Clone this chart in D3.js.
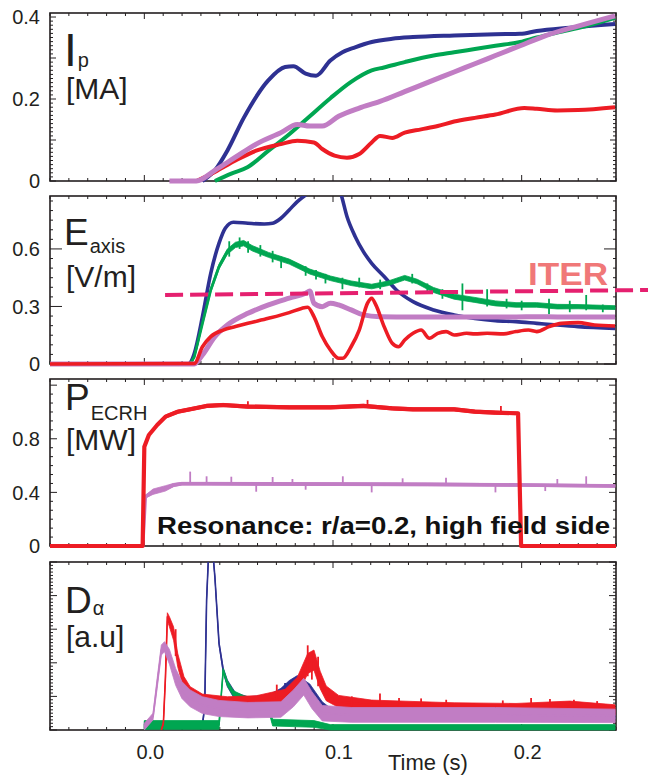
<!DOCTYPE html>
<html>
<head>
<meta charset="utf-8">
<script src="https://cdn.jsdelivr.net/npm/d3@7"></script>
<style>
body{margin:0;background:#fff;}
text{font-family:"Liberation Sans",Arial,sans-serif;fill:#231f20;}
</style>
</head>
<body>
<div id="chart"></div>
<script>
var width=648, height=778;
var left=50, right=616;

//couleurs des differents tirs
var colBlue="#2e3192", colGreen="#00a651", colRed="#ed1c24", colPurple="#c17dc4";

var timeLabels=[0.0,0.1,0.2];

//courant plasma Ip [MA]  [t, valeur]
var ipBlue=[[0.0308,0],[0.0374,0.026],[0.044,0.074],[0.0527,0.154],[0.0658,0.246],[0.0746,0.278],[0.079,0.28],[0.0855,0.262],[0.091,0.257],[0.0986,0.294],[0.105,0.314],[0.1117,0.326],[0.1205,0.339],[0.1314,0.347],[0.1424,0.351],[0.1642,0.355],[0.1861,0.358],[0.1992,0.359],[0.208,0.366],[0.2255,0.374],[0.2495,0.383]];
var ipGreen=[[0.0374,0],[0.0461,0.018],[0.0549,0.034],[0.0658,0.074],[0.0768,0.114],[0.0877,0.158],[0.0986,0.202],[0.1096,0.242],[0.1205,0.27],[0.127,0.277],[0.138,0.29],[0.1533,0.306],[0.1642,0.314],[0.1752,0.322],[0.1861,0.33],[0.1992,0.339],[0.208,0.35],[0.2189,0.362],[0.2342,0.378],[0.2495,0.398]];
var ipPurple=[[0.0133,0],[0.0276,0],[0.0374,0.026],[0.0483,0.058],[0.0593,0.09],[0.0724,0.118],[0.0811,0.138],[0.0877,0.134],[0.0943,0.134],[0.103,0.158],[0.1139,0.178],[0.1249,0.194],[0.138,0.218],[0.1533,0.246],[0.1642,0.266],[0.1752,0.286],[0.1861,0.306],[0.1992,0.33],[0.2124,0.354],[0.2299,0.378],[0.2495,0.403]];
var ipRed=[[0.0276,0],[0.0374,0.022],[0.0483,0.05],[0.0593,0.074],[0.0724,0.09],[0.0811,0.098],[0.0899,0.094],[0.0943,0.078],[0.1008,0.062],[0.1074,0.057],[0.1139,0.066],[0.1205,0.094],[0.1249,0.11],[0.1314,0.105],[0.138,0.118],[0.1467,0.126],[0.1555,0.134],[0.1642,0.145],[0.1752,0.154],[0.1861,0.162],[0.2014,0.178],[0.208,0.176],[0.2189,0.172],[0.2299,0.173],[0.2495,0.18]];
var ipTicks=[0,0.2,0.4];

//champ electrique Eaxis [V/m]
var eBlue=[[-0.05,0],[0.0232,0],[0.0247,0.012],[0.0265,0.056],[0.0308,0.247],[0.0352,0.473],[0.0396,0.63],[0.0429,0.708],[0.0472,0.739],[0.0549,0.734],[0.0636,0.73],[0.068,0.734],[0.0724,0.76],[0.0768,0.803],[0.0811,0.847],[0.0855,0.882],[0.0921,0.95],[0.0986,0.98],[0.1041,0.89],[0.1074,0.769],[0.1118,0.664],[0.1161,0.586],[0.1205,0.525],[0.1271,0.456],[0.1336,0.386],[0.1424,0.325],[0.1533,0.282],[0.1642,0.256],[0.1752,0.238],[0.1861,0.226],[0.197,0.221],[0.208,0.212],[0.2189,0.203],[0.2299,0.195],[0.2495,0.186]];
//[t, valeur, bruit]
var eGreen=[[-0.05,0,0.002],[0.002,0,0.004],[0.018,0,0.008],[0.0243,0,0.003],[0.0265,0.038,0.008],[0.0308,0.212,0.01],[0.0352,0.386,0.012],[0.0396,0.508,0.013],[0.044,0.586,0.014],[0.0483,0.621,0.014],[0.0527,0.63,0.014],[0.0571,0.604,0.014],[0.0658,0.569,0.013],[0.0768,0.534,0.013],[0.0877,0.482,0.013],[0.0986,0.447,0.012],[0.1096,0.421,0.012],[0.1205,0.404,0.012],[0.1293,0.421,0.012],[0.138,0.45,0.012],[0.1446,0.43,0.012],[0.1533,0.386,0.013],[0.1642,0.351,0.013],[0.1752,0.334,0.013],[0.1861,0.316,0.013],[0.197,0.308,0.012],[0.208,0.308,0.012],[0.2189,0.299,0.012],[0.2299,0.299,0.011],[0.2495,0.294,0.01]];
var eGreenSpikes=[[0.045,0.56,0.64],[0.0505,0.6,0.66],[0.055,0.58,0.64],[0.0615,0.56,0.62],[0.068,0.53,0.59],[0.0725,0.5,0.56],[0.0855,0.46,0.51],[0.091,0.44,0.49],[0.096,0.42,0.47],[0.105,0.39,0.45],[0.1139,0.4,0.45],[0.125,0.39,0.44],[0.142,0.42,0.47],[0.15,0.37,0.42],[0.158,0.34,0.39],[0.1686,0.28,0.42],[0.1817,0.3,0.39],[0.192,0.29,0.34],[0.2,0.28,0.33],[0.2145,0.26,0.34],[0.2255,0.27,0.33],[0.2342,0.28,0.36],[0.243,0.27,0.31]];
var ePurple=[[-0.05,0],[0.0177,0],[0.0265,0],[0.0308,0.047],[0.0374,0.143],[0.044,0.203],[0.0549,0.264],[0.0658,0.308],[0.0768,0.343],[0.0855,0.369],[0.0877,0.38],[0.0899,0.317],[0.0943,0.299],[0.0986,0.317],[0.103,0.308],[0.1096,0.282],[0.1161,0.256],[0.1249,0.247],[0.1424,0.245],[0.1642,0.245],[0.1861,0.245],[0.208,0.246],[0.2299,0.245],[0.2495,0.245]];
var eRed=[[-0.05,0],[0.0265,0.003],[0.0308,0.09],[0.0352,0.143],[0.0418,0.177],[0.0483,0.195],[0.0549,0.212],[0.0658,0.238],[0.0768,0.268],[0.0833,0.29],[0.0866,0.296],[0.0899,0.247],[0.0943,0.143],[0.0986,0.073],[0.103,0.03],[0.1052,0.03],[0.1096,0.09],[0.1139,0.177],[0.1183,0.317],[0.1205,0.343],[0.1227,0.308],[0.1271,0.195],[0.1314,0.108],[0.1347,0.09],[0.138,0.125],[0.1424,0.16],[0.1467,0.177],[0.1511,0.134],[0.1555,0.16],[0.1599,0.169],[0.1642,0.151],[0.1708,0.16],[0.1752,0.157],[0.1817,0.16],[0.1905,0.157],[0.197,0.169],[0.2036,0.177],[0.208,0.169],[0.2145,0.195],[0.2211,0.212],[0.2299,0.216],[0.2386,0.203],[0.2495,0.198]];
var iterLine=[[0.011,0.36],[0.267,0.386]];
var eTicks=[0,0.3,0.6];

//puissance ECRH [MW]
var pRed=[[-0.05,0,0],[-0.0009,0,0],[0,0.74,0.005],[0.0024,0.828,0.008],[0.0068,0.903,0.01],[0.0112,0.965,0.012],[0.0177,1.002,0.012],[0.0243,1.02,0.012],[0.033,1.045,0.012],[0.0418,1.052,0.012],[0.0549,1.04,0.012],[0.0768,1.035,0.012],[0.0986,1.035,0.012],[0.1161,1.045,0.012],[0.1314,1.027,0.012],[0.1424,1.02,0.012],[0.1642,1.02,0.012],[0.1752,1.002,0.012],[0.1861,0.995,0.012],[0.1981,0.99,0.008],[0.1997,0,0],[0.25,0,0]];
var pRedSpikes=[[0.0549,1.04,1.08],[0.1183,1.04,1.09],[0.189,1.0,1.045]];
var pPurple=[[-0.05,0,0],[-0.0009,0,0],[0.0005,0.367,0.01],[0.0046,0.405,0.02],[0.0112,0.43,0.02],[0.0155,0.455,0.012],[0.0199,0.465,0.01],[0.033,0.465,0.01],[0.1,0.462,0.01],[0.15,0.46,0.01],[0.2,0.455,0.01],[0.2495,0.448,0.01]];
var pPurpleSpikes=[[0.0243,0.46,0.555],[0.033,0.46,0.52],[0.0461,0.46,0.517],[0.068,0.46,0.515],[0.0785,0.46,0.5],[0.1052,0.46,0.52],[0.1369,0.46,0.505],[0.1599,0.46,0.51],[0.2189,0.45,0.5],[0.2342,0.45,0.52],[0.0593,0.405,0.46],[0.0855,0.42,0.46],[0.1205,0.4,0.46],[0.1861,0.4,0.455],[0.2125,0.41,0.45]];
var pTicks=[0,0.4,0.8];

//D alpha [a.u]
var dBlue=[[0,0.15,0.1],[0.0308,0.15,0.1],[0.032,0.69,0],[0.033,3.86,0],[0.0341,5.3,0],[0.0363,5.3,0],[0.0374,4.55,0],[0.0396,2.57,0.05],[0.0418,1.78,0.08],[0.044,1.39,0.1],[0.0483,0.99,0.12],[0.0549,0.84,0.15],[0.0658,0.89,0.15],[0.0724,1.09,0.15],[0.0768,1.29,0.18],[0.0811,1.44,0.18],[0.0877,1.19,0.18],[0.0943,0.69,0.15],[0.0986,0.5,0.15],[0.1096,0.48,0.15],[0.1424,0.48,0.15],[0.1861,0.5,0.15],[0.2189,0.54,0.15],[0.2495,0.48,0.15]];
var dBlueSpikes=[[0.0746,1.0,1.4],[0.208,0.5,0.74],[0.2474,0.5,0.69]];
var dGreen=[[0,0.15,0.13],[0.0396,0.15,0.13],[0.0407,0.99,0.05],[0.0418,1.78,0.05],[0.044,1.39,0.08],[0.0472,1.09,0.08],[0.0527,0.94,0.08],[0.0593,0.84,0.08],[0.0658,0.69,0.1],[0.068,0.22,0.1],[0.0899,0.18,0.1],[0.0986,0.08,0.08],[0.2495,0.08,0.08]];
var dRed=[[0.009,0,0],[0.0101,0.2,0.05],[0.0112,1.58,0.1],[0.0122,3.37,0.12],[0.0133,3.22,0.15],[0.0155,2.87,0.2],[0.0177,2.08,0.2],[0.021,1.39,0.2],[0.0243,1.09,0.2],[0.0308,0.89,0.18],[0.044,0.81,0.18],[0.0593,0.84,0.18],[0.0746,0.99,0.22],[0.0811,1.29,0.28],[0.0866,1.98,0.3],[0.0899,2.08,0.3],[0.0932,1.49,0.26],[0.0964,1.09,0.22],[0.103,0.85,0.18],[0.1205,0.74,0.15],[0.1424,0.7,0.15],[0.1642,0.66,0.15],[0.197,0.64,0.15],[0.2255,0.7,0.16],[0.2495,0.6,0.15]];
var dRedSpikes=[[0.0166,2.2,3.0],[0.0702,0.9,1.35],[0.0866,1.6,2.52],[0.0888,1.5,2.3],[0.0921,1.3,2.18],[0.11,0.6,1.0],[0.1249,0.6,1.09],[0.135,0.6,0.95],[0.1467,0.6,0.94],[0.16,0.6,0.9],[0.19,0.6,0.88],[0.205,0.6,0.95],[0.215,0.6,0.92],[0.2277,0.6,0.9],[0.24,0.6,0.86]];
var dPurple=[[0,0.1,0.1],[0.0046,0.4,0.1],[0.0068,1.39,0.15],[0.009,2.38,0.15],[0.0107,2.48,0.15],[0.0133,2.18,0.22],[0.0166,1.58,0.25],[0.0199,1.19,0.25],[0.0243,0.94,0.25],[0.0308,0.74,0.25],[0.0396,0.64,0.24],[0.0549,0.59,0.23],[0.0724,0.61,0.23],[0.079,0.94,0.25],[0.0845,1.29,0.25],[0.0888,0.89,0.25],[0.0943,0.5,0.23],[0.1096,0.45,0.22],[0.1424,0.45,0.22],[0.1861,0.45,0.22],[0.2495,0.42,0.2]];

var x = d3.scaleLinear().domain([-0.05,0.25]).range([left,right]);

var svg1 = d3.select("#chart").append("svg")
  .attr("width",width).attr("height",height);

var panels=[
  {id:1,top:13,bottom:181,ymax:0.4098,minor:0.01,major:0.1,majorLen:6,ticks:ipTicks,
   main:"I",mainSize:46,mx:64,my:66,sub:"p",sy:67,unit:"[MA]",uy:99,
   series:[{d:ipBlue,c:colBlue,w:4,curve:true},{d:ipGreen,c:colGreen,w:4,curve:true},
           {d:ipRed,c:colRed,w:4,curve:true},{d:ipPurple,c:colPurple,w:5,curve:true}]},
  {id:2,top:196,bottom:364,ymax:0.876,minor:0.05,major:0.3,majorLen:12,ticks:eTicks,
   main:"E",mainSize:37,mx:64,my:245,sub:"axis",sy:253,unit:"[V/m]",uy:287,
   series:[{d:eBlue,c:colBlue,w:3.6,curve:true},{d:eGreen,c:colGreen,w:2.8,band:true,spikes:eGreenSpikes},
           {d:ePurple,c:colPurple,w:5,curve:true},{d:eRed,c:colRed,w:3.6,curve:true}]},
  {id:3,top:379,bottom:546,ymax:1.246,minor:0.4/6,major:0.4,majorLen:7,ticks:pTicks,
   main:"P",mainSize:37,mx:65,my:410,sub:"ECRH",sy:420,unit:"[MW]",uy:450,
   series:[{d:pPurple,c:colPurple,w:3.6,band:true,spikes:pPurpleSpikes},
           {d:pRed,c:colRed,w:4.2,band:true,spikes:pRedSpikes}]},
  {id:4,top:562,bottom:730,ymax:5,minor:0.1,major:1,majorLen:7,ticks:[],
   main:"D",mainSize:37,mx:65,my:613,sub:"α",sy:615,unit:"[a.u]",uy:647,
   series:[{d:dBlue,c:colBlue,w:1.6,band:true,spikes:dBlueSpikes},{d:dGreen,c:colGreen,w:1.6,band:true},
           {d:dRed,c:colRed,w:1.6,band:true,spikes:dRedSpikes},{d:dPurple,c:colPurple,w:1.6,band:true}]}
];

//Fonction qui trace une serie (ligne + bande de bruit + pics)
function drawSerie(container,s,y){
  var line = d3.line().x(function(d){return x(d[0]);}).y(function(d){return y(d[1]);});
  if(s.curve){ line.curve(d3.curveMonotoneX); }
  if(s.band){
    var area = d3.area().x(function(d){return x(d[0]);})
      .y0(function(d){return y(d[1]-d[2]);}).y1(function(d){return y(d[1]+d[2]);});
    container.append("path").attr("d",area(s.d)).attr("fill",s.c).attr("stroke",s.c).attr("stroke-width",0.8);
  }
  container.append("path").attr("d",line(s.d)).attr("fill","none")
    .attr("stroke",s.c).attr("stroke-width",s.w).attr("stroke-linejoin","round");
  if(s.spikes){
    container.selectAll(null).data(s.spikes).enter().append("line")
      .attr("x1",function(d){return x(d[0]);}).attr("x2",function(d){return x(d[0]);})
      .attr("y1",function(d){return y(d[1]);}).attr("y2",function(d){return y(d[2]);})
      .attr("stroke",s.c).attr("stroke-width",1.8);
  }
}

//Fonction qui trace le cadre et les graduations vers l'interieur
function drawFrame(g,p,y){
  g.append("rect").attr("x",left).attr("y",p.top).attr("width",right-left).attr("height",p.bottom-p.top)
    .attr("fill","none").attr("stroke","#231f20").attr("stroke-width",1.6);
  var ticksG = g.append("g").attr("stroke","#231f20").attr("stroke-width",1);
  d3.range(-5,26).forEach(function(i){
    var t=i/100, len=(i%10===0)?6:3;
    ticksG.append("line").attr("x1",x(t)).attr("x2",x(t)).attr("y1",p.bottom).attr("y2",p.bottom-len);
    ticksG.append("line").attr("x1",x(t)).attr("x2",x(t)).attr("y1",p.top).attr("y2",p.top+len);
  });
  var n=Math.floor(p.ymax/p.minor+1e-6);
  d3.range(0,n+1).forEach(function(i){
    var v=i*p.minor, r=v/p.major;
    var len=(Math.abs(r-Math.round(r))<1e-6)?p.majorLen:3;
    ticksG.append("line").attr("x1",left).attr("x2",left+len).attr("y1",y(v)).attr("y2",y(v));
    ticksG.append("line").attr("x1",right).attr("x2",right-len).attr("y1",y(v)).attr("y2",y(v));
  });
  g.selectAll(null).data(p.ticks).enter().append("text")
    .attr("x",40).attr("y",function(d){return y(d);}).attr("dy","0.36em")
    .attr("text-anchor","end").style("font-size","20px")
    .text(function(d){return d===0?"0":d3.format(".1f")(d);});
}

panels.forEach(function(p){
  var y = d3.scaleLinear().domain([0,p.ymax]).range([p.bottom,p.top]);
  p.y=y;
  var g = svg1.append("g");
  g.append("clipPath").attr("id","clip"+p.id).append("rect")
    .attr("x",left-2).attr("y",p.top).attr("width",right-left+2).attr("height",p.bottom-p.top+3);
  drawFrame(g,p,y);
  var dataG = g.append("g").attr("clip-path","url(#clip"+p.id+")");
  p.series.forEach(function(s){ drawSerie(dataG,s,y); });
  //nom de la grandeur, indice colle a la lettre
  var main = g.append("text").attr("x",p.mx).attr("y",p.my).style("font-size",p.mainSize+"px").text(p.main);
  var sx = p.mx + main.node().getComputedTextLength() + 1;
  g.append("text").attr("x",sx).attr("y",p.sy).style("font-size","20px").text(p.sub);
  g.append("text").attr("x",66).attr("y",p.uy).style("font-size","30px").text(p.unit);
});

//ligne ITER
var yE = panels[1].y;
svg1.append("path")
  .attr("d",d3.line().x(function(d){return x(d[0]);}).y(function(d){return yE(d[1]);})(iterLine))
  .attr("stroke","#e5206f").attr("stroke-width",4).attr("stroke-dasharray","18,7").attr("fill","none");
svg1.append("text").attr("x",528).attr("y",285).attr("textLength",80).attr("lengthAdjust","spacingAndGlyphs")
  .style("font-size","32px").style("font-weight","bold").style("fill","#f07878").text("ITER");

svg1.append("text").attr("x",157).attr("y",534).attr("textLength",453).attr("lengthAdjust","spacingAndGlyphs")
  .style("font-size","24px").style("font-weight","bold").style("fill","#111").text("Resonance: r/a=0.2, high field side");

//axe du temps
svg1.selectAll(null).data(timeLabels).enter().append("text")
  .attr("x",function(d){return x(d)+6;}).attr("y",759).attr("text-anchor","middle")
  .style("font-size","20px").text(function(d){return d3.format(".1f")(d);});
svg1.append("text").attr("x",388).attr("y",770).style("font-size","22px").text("Time (s)");
</script>
</body>
</html>
